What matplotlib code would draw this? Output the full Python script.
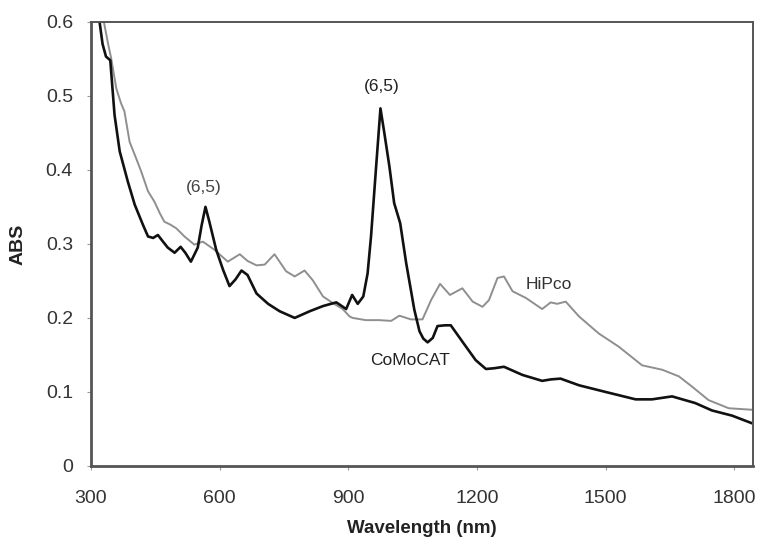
import matplotlib
matplotlib.use('Agg')
import matplotlib.pyplot as plt
import matplotlib as mpl
from matplotlib.ticker import FuncFormatter

mpl.rcParams['font.family'] = ['Liberation Sans', 'DejaVu Sans']
mpl.rcParams['font.size'] = 14

# CoMoCAT (black) spectrum
como_nm = [312, 320, 327, 335, 345, 355, 367, 386, 402, 421, 433, 445, 456, 468, 479,
           495, 509, 520, 533, 549, 558, 567, 576, 592, 608, 623, 637, 651, 665, 686,
           713, 740, 775, 810, 841, 872, 895, 909, 922, 935, 945, 953, 965, 975, 984,
           996, 1007, 1021, 1035, 1054, 1066, 1075, 1085, 1097, 1108, 1125, 1139, 1166,
           1197, 1221, 1240, 1263, 1306, 1352, 1373, 1395, 1438, 1500, 1570, 1608, 1655,
           1709, 1748, 1795, 1840]
como_abs = [0.63, 0.60, 0.57, 0.553, 0.548, 0.474, 0.425, 0.384, 0.353, 0.326, 0.310,
            0.308, 0.312, 0.303, 0.295, 0.288, 0.296, 0.288, 0.276, 0.295, 0.325, 0.350,
            0.330, 0.292, 0.265, 0.243, 0.252, 0.264, 0.258, 0.233, 0.219, 0.209, 0.200,
            0.209, 0.216, 0.221, 0.212, 0.231, 0.219, 0.229, 0.260, 0.310, 0.405, 0.483,
            0.450, 0.404, 0.355, 0.328, 0.274, 0.211, 0.182, 0.172, 0.167, 0.173, 0.189,
            0.190, 0.190, 0.168, 0.143, 0.131, 0.132, 0.134, 0.123, 0.115, 0.117, 0.118,
            0.109, 0.100, 0.090, 0.090, 0.094, 0.085, 0.075, 0.068, 0.058]

# HiPco (grey) spectrum
hipco_nm = [322, 330, 340, 347, 359, 370, 378, 390, 405, 417, 433, 448, 460, 471, 485,
            499, 518, 541, 561, 588, 619, 647, 665, 686, 705, 728, 755, 775, 798, 817,
            841, 864, 887, 903, 910, 941, 972, 1000, 1019, 1046, 1073, 1093, 1114, 1137,
            1166, 1190, 1213, 1228, 1248, 1263, 1283, 1314, 1352, 1372, 1387, 1407, 1438,
            1484, 1531, 1585, 1632, 1671, 1702, 1740, 1787, 1840]
hipco_abs = [0.64, 0.60, 0.57, 0.551, 0.510, 0.490, 0.479, 0.438, 0.416, 0.398, 0.371,
             0.357, 0.342, 0.330, 0.326, 0.321, 0.310, 0.299, 0.303, 0.292, 0.276, 0.286,
             0.277, 0.271, 0.272, 0.286, 0.263, 0.256, 0.264, 0.251, 0.229, 0.220, 0.212,
             0.202, 0.200, 0.197, 0.197, 0.196, 0.203, 0.198, 0.198, 0.224, 0.246, 0.231,
             0.240, 0.222, 0.215, 0.224, 0.254, 0.256, 0.236, 0.227, 0.212, 0.221, 0.219,
             0.222, 0.202, 0.179, 0.161, 0.136, 0.130, 0.121, 0.107, 0.089, 0.078, 0.076]

xticks = [300, 600, 900, 1200, 1500, 1800]
yticks = [0, 0.1, 0.2, 0.3, 0.4, 0.5, 0.6]

fig = plt.figure(figsize=(7.6, 5.44), dpi=100)
ax = fig.add_axes([0.1197, 0.1434, 0.8707, 0.8166])

ax.plot(hipco_nm, hipco_abs, color='#8f8f8f', linewidth=1.4)
ax.plot(como_nm, como_abs, color='#111111', linewidth=1.9)

ax.set_xlim(300, 1843)
ax.set_ylim(0, 0.6)
ax.set_xticks(xticks)
ax.set_yticks(yticks)
ax.yaxis.set_major_formatter(FuncFormatter(lambda v, p: '0' if v == 0 else f'{v:.1f}'))

for s in ax.spines.values():
    s.set_color('#555555')
    s.set_linewidth(1.4)
ax.spines['left'].set_linewidth(2.0)
ax.spines['bottom'].set_linewidth(2.0)
ax.tick_params(direction='out', length=3, width=0.8, color='#999999',
               labelcolor='#333333', labelsize=14)
ax.tick_params(axis='x', pad=14)
ax.tick_params(axis='y', pad=10)

ax.set_xlabel('Wavelength (nm)', fontweight='bold', fontsize=13.5, color='#222222', labelpad=10)
ax.set_ylabel('ABS', fontweight='bold', fontsize=14, color='#222222', labelpad=14)

ax.text(563, 0.376, '(6,5)', ha='center', va='center', fontsize=12.5, color='#444444')
ax.text(977, 0.512, '(6,5)', ha='center', va='center', fontsize=12.5, color='#222222')
ax.text(1314, 0.245, 'HiPco', ha='left', va='center', fontsize=12.5, color='#333333')
ax.text(1045, 0.143, 'CoMoCAT', ha='center', va='center', fontsize=12.5, color='#222222')

fig.savefig('out.png', dpi=100)
